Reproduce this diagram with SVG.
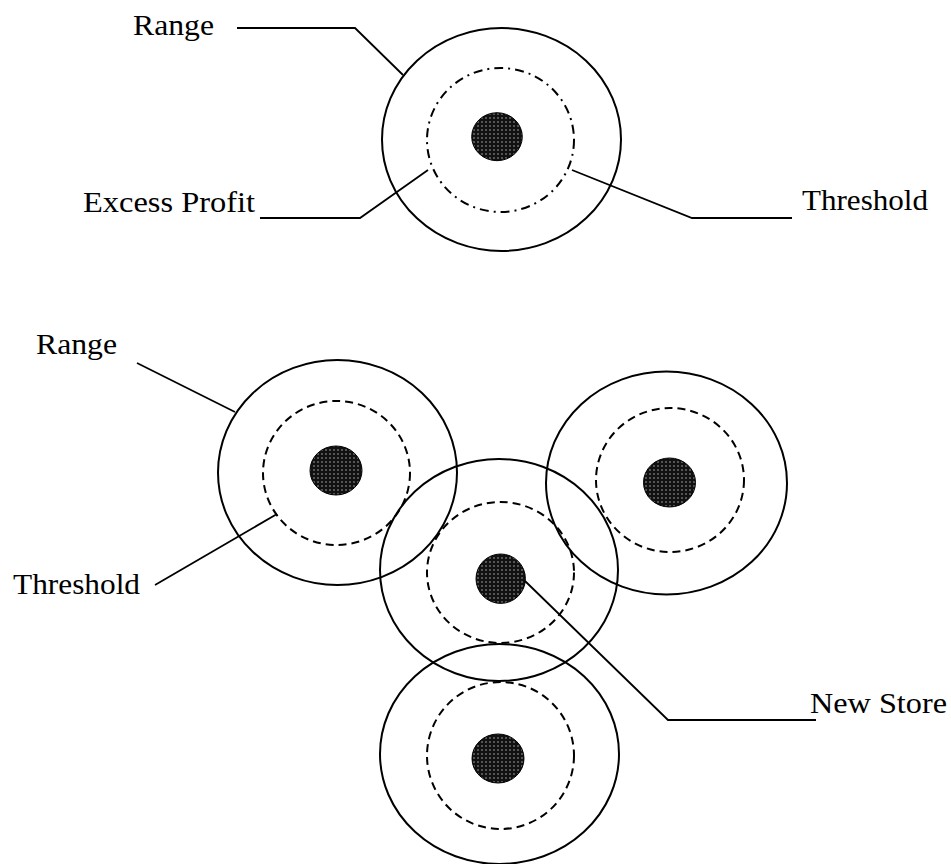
<svg xmlns="http://www.w3.org/2000/svg" width="951" height="864" viewBox="0 0 951 864">
  <style>
    .outer { fill: none; stroke: #000; stroke-width: 2; }
    .thr { fill: none; stroke: #000; stroke-width: 2; stroke-dasharray: 8 5; }
    .thrdd { fill: none; stroke: #000; stroke-width: 2; stroke-dasharray: 9 5 2 5; }
    .store { fill: url(#stipple); stroke: #000; stroke-width: 1; }
    .lead { fill: none; stroke: #000; stroke-width: 1.8; }
    text { font-family: "Liberation Serif", "Times New Roman", serif; font-size: 30px; fill: #000; }
  </style>
  <defs>
    <pattern id="stipple" width="4" height="4" patternUnits="userSpaceOnUse">
      <rect width="4" height="4" fill="#111"/>
      <circle cx="2" cy="2" r="0.75" fill="#bbb"/>
    </pattern>
  </defs>
  <rect width="951" height="864" fill="#fff"/>

  <!-- Top diagram -->
  <g id="single-store">
    <ellipse class="outer" cx="501.5" cy="139.5" rx="119.5" ry="111.5"/>
    <ellipse class="thrdd" cx="500.5" cy="140" rx="73.5" ry="72"/>
    <ellipse class="store" cx="497" cy="136.7" rx="25.3" ry="24"/>
  </g>

  <!-- Bottom diagram -->
  <g id="store-a">
    <ellipse class="outer" cx="337.5" cy="472.5" rx="119.5" ry="112.5"/>
    <ellipse class="thr" cx="336.5" cy="473" rx="73.5" ry="72"/>
    <ellipse class="store" cx="336" cy="470.5" rx="26" ry="24.5"/>
  </g>
  <g id="store-c">
    <ellipse class="outer" cx="666.5" cy="483" rx="120.5" ry="111.5"/>
    <ellipse class="thr" cx="670" cy="480" rx="74" ry="72"/>
    <ellipse class="store" cx="669.5" cy="482.5" rx="26" ry="24.5"/>
  </g>
  <g id="store-b-new">
    <ellipse class="outer" cx="499" cy="570" rx="119" ry="111"/>
    <ellipse class="thr" cx="500.5" cy="572.5" rx="73.5" ry="70.5"/>
    <ellipse class="store" cx="500.7" cy="578.7" rx="24.7" ry="24.7"/>
  </g>
  <g id="store-d">
    <ellipse class="outer" cx="499.5" cy="754" rx="119.5" ry="110"/>
    <ellipse class="thr" cx="500.5" cy="755.5" rx="73.5" ry="73.5"/>
    <ellipse class="store" cx="498" cy="758.5" rx="26" ry="24.5"/>
  </g>

  <!-- Connectors (leader lines) -->
  <g id="connectors">
    <polyline class="lead" points="237,28 355,28 403,75"/>
    <polyline class="lead" points="260,218 360,218 428,170"/>
    <polyline class="lead" points="572,170 692,218 792,218"/>
    <line class="lead" x1="137" y1="363" x2="235" y2="412"/>
    <line class="lead" x1="155" y1="585" x2="277" y2="514"/>
    <polyline class="lead" points="525,581 668,720 816,720"/>
  </g>

  <!-- Labels -->
  <g id="labels">
    <text x="133" y="35" textLength="81" lengthAdjust="spacingAndGlyphs">Range</text>
    <text x="83" y="212" textLength="172" lengthAdjust="spacingAndGlyphs">Excess Profit</text>
    <text x="802" y="210" textLength="126" lengthAdjust="spacingAndGlyphs">Threshold</text>
    <text x="36" y="354" textLength="81" lengthAdjust="spacingAndGlyphs">Range</text>
    <text x="13" y="594" textLength="127" lengthAdjust="spacingAndGlyphs">Threshold</text>
    <text x="810" y="713" textLength="137" lengthAdjust="spacingAndGlyphs">New Store</text>
  </g>
</svg>
